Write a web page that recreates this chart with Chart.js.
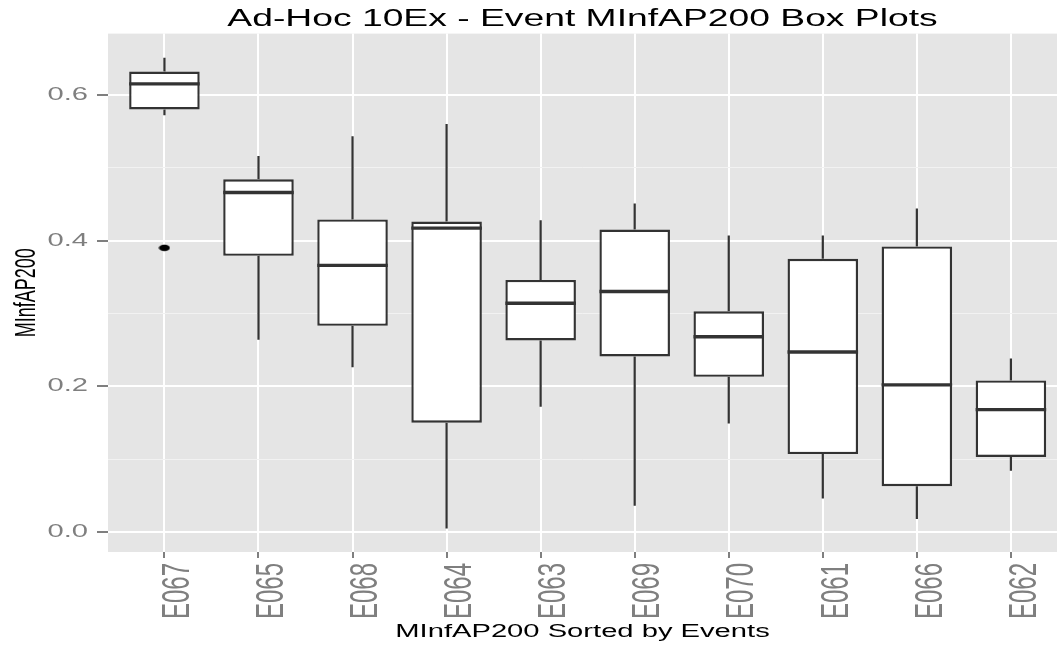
<!DOCTYPE html>
<html>
<head>
<meta charset="utf-8">
<title>Ad-Hoc 10Ex - Event MInfAP200 Box Plots</title>
<script src="https://cdn.jsdelivr.net/npm/chart.js@4/dist/chart.umd.min.js"></script>
<style>
  html, body { margin: 0; padding: 0; background: #fff; }
  #chart { display: block; }
</style>
</head>
<body>
<canvas id="chart" width="1062" height="651"></canvas>
<script>
// Box plot values per event
const events = ['E067', 'E065', 'E068', 'E064', 'E063', 'E069', 'E070', 'E061', 'E066', 'E062'];
const whiskerLow = [0.572, 0.264, 0.226, 0.005, 0.172, 0.036, 0.149, 0.046, 0.018, 0.084];
const q1 = [0.580, 0.379, 0.283, 0.150, 0.263, 0.241, 0.213, 0.107, 0.063, 0.103];
const median = [0.615, 0.466, 0.366, 0.417, 0.314, 0.330, 0.268, 0.247, 0.202, 0.168];
const q3 = [0.632, 0.484, 0.429, 0.426, 0.346, 0.415, 0.303, 0.375, 0.392, 0.208];
const whiskerHigh = [0.651, 0.516, 0.543, 0.560, 0.428, 0.451, 0.407, 0.407, 0.444, 0.238];

// Outliers: index of the event and its value
const outlierIndex = [0];
const outlierValue = [0.390];

// Y ticks: majors get a label, minors only a light grid line
const yTickValues = [0, 0.1, 0.2, 0.3, 0.4, 0.5, 0.6];
const yMajorTicks = [0, 0.2, 0.4, 0.6];

const LINE = '#333333';
const TICK_GREY = '#7f7f7f';
const TEXT_STRETCH = 1.62; // the reference text is drawn wider than it is tall

const isMajor = v => yMajorTicks.some(m => Math.abs(m - v) < 1e-9);

// stretch every text horizontally around its anchor (lines stay untouched)
const stretchText = {
    id: 'stretchText',
    beforeInit(chart) {
        const ctx = chart.ctx;
        const fill = ctx.fillText.bind(ctx);
        ctx.fillText = function (text, x, y, maxWidth) {
            const m = ctx.getTransform();
            const p = m.transformPoint(new DOMPoint(x, y));
            ctx.save();
            ctx.setTransform(new DOMMatrix()
                .translate(p.x, p.y).scale(TEXT_STRETCH, 1).translate(-p.x, -p.y)
                .multiply(m));
            if (maxWidth === undefined) fill(text, x, y);
            else fill(text, x, y, maxWidth);
            ctx.restore();
        };
    }
};

// grey panel behind the grid
const panel = {
    id: 'panel',
    beforeDraw(chart) {
        const {ctx, chartArea: a} = chart;
        ctx.save();
        ctx.fillStyle = '#e5e5e5';
        ctx.fillRect(a.left, a.top, a.right - a.left, a.bottom - a.top);
        ctx.restore();
    }
};

// whiskers under the boxes, medians over them
const boxParts = {
    id: 'boxParts',
    beforeDatasetsDraw(chart) {
        const {ctx, scales: {x, y}} = chart;
        ctx.save();
        ctx.strokeStyle = LINE;
        ctx.lineWidth = 2.2;
        events.forEach((e, i) => {
            const px = x.getPixelForValue(i);
            ctx.beginPath();
            ctx.moveTo(px, y.getPixelForValue(q3[i]));
            ctx.lineTo(px, y.getPixelForValue(whiskerHigh[i]));
            ctx.moveTo(px, y.getPixelForValue(q1[i]));
            ctx.lineTo(px, y.getPixelForValue(whiskerLow[i]));
            ctx.stroke();
        });
        ctx.restore();
    },
    afterDatasetsDraw(chart) {
        const {ctx, scales: {y}} = chart;
        const bars = chart.getDatasetMeta(0).data;
        ctx.save();
        ctx.strokeStyle = LINE;
        ctx.lineWidth = 3.4;
        events.forEach((e, i) => {
            const bar = bars[i];
            const py = y.getPixelForValue(median[i]);
            ctx.beginPath();
            ctx.moveTo(bar.x - bar.width / 2, py);
            ctx.lineTo(bar.x + bar.width / 2, py);
            ctx.stroke();
        });
        ctx.restore();
    }
};

// outlier dot, wide like the rest of the picture
const dot = document.createElement('canvas');
dot.width = 12;
dot.height = 8;
(() => {
    const c = dot.getContext('2d');
    c.fillStyle = '#000';
    c.beginPath();
    c.ellipse(6, 4, 5.5, 3.3, 0, 0, Math.PI * 2);
    c.fill();
})();

Chart.defaults.font.family = "'Liberation Sans', Arial, Helvetica, sans-serif";
Chart.defaults.animation = false;

new Chart(document.getElementById('chart'), {
    type: 'bar',
    data: {
        datasets: [{
            label: 'box',
            data: events.map((e, i) => ({x: i, y: [q1[i], q3[i]]})),
            backgroundColor: '#ffffff',
            borderColor: LINE,
            borderWidth: 2.4,
            borderSkipped: false,
            barPercentage: 0.75,
            categoryPercentage: 1.0
        }, {
            type: 'scatter',
            label: 'outliers',
            data: outlierIndex.map((idx, i) => ({x: idx, y: outlierValue[i]})),
            pointStyle: dot,
            pointRadius: 4
        }]
    },
    options: {
        responsive: false,
        devicePixelRatio: 1,
        layout: { padding: 0 },
        plugins: {
            legend: { display: false },
            tooltip: { enabled: false },
            title: {
                display: true,
                text: 'Ad-Hoc 10Ex - Event MInfAP200 Box Plots',
                color: '#000',
                fullSize: false,
                font: { size: 23, weight: 'normal' },
                padding: { top: 6, bottom: 0 }
            }
        },
        scales: {
            x: {
                type: 'linear',
                min: -0.6,
                max: 9.49,
                offset: false,
                afterBuildTicks: axis => { axis.ticks = events.map((e, i) => ({value: i})); },
                afterFit: axis => {
                    axis.height = 99;
                    axis.paddingLeft = 0;
                    axis.paddingRight = 0;
                },
                border: { display: false },
                grid: {
                    offset: false,
                    color: '#ffffff',
                    lineWidth: 2,
                    tickLength: 6,
                    tickColor: TICK_GREY,
                    tickWidth: 2
                },
                ticks: {
                    autoSkip: false,
                    minRotation: 90,
                    maxRotation: 90,
                    labelOffset: 14,
                    padding: 5,
                    color: TICK_GREY,
                    font: { size: 24 },
                    callback: v => events[v]
                },
                title: {
                    display: true,
                    text: 'MInfAP200 Sorted by Events',
                    color: '#000',
                    font: { size: 18 },
                    padding: { top: 0, bottom: 8 }
                }
            },
            y: {
                min: -0.0274,
                max: 0.684,
                afterBuildTicks: axis => { axis.ticks = yTickValues.map(v => ({value: v})); },
                afterFit: axis => { axis.width = 108; },
                border: { display: false },
                grid: {
                    color: c => isMajor(c.tick.value) ? '#ffffff' : '#f2f2f2',
                    lineWidth: c => isMajor(c.tick.value) ? 2 : 1,
                    tickLength: 11,
                    tickColor: c => isMajor(c.tick.value) ? TICK_GREY : 'rgba(0,0,0,0)',
                    tickWidth: 2
                },
                ticks: {
                    padding: 9,
                    color: TICK_GREY,
                    font: { size: 18 },
                    callback: v => isMajor(v) ? v.toFixed(1) : ''
                },
                title: {
                    display: true,
                    text: 'MInfAP200',
                    color: '#000',
                    font: { size: 18 },
                    padding: { top: 16, bottom: 0 }
                }
            }
        }
    },
    plugins: [stretchText, panel, boxParts]
});
</script>
</body>
</html>
